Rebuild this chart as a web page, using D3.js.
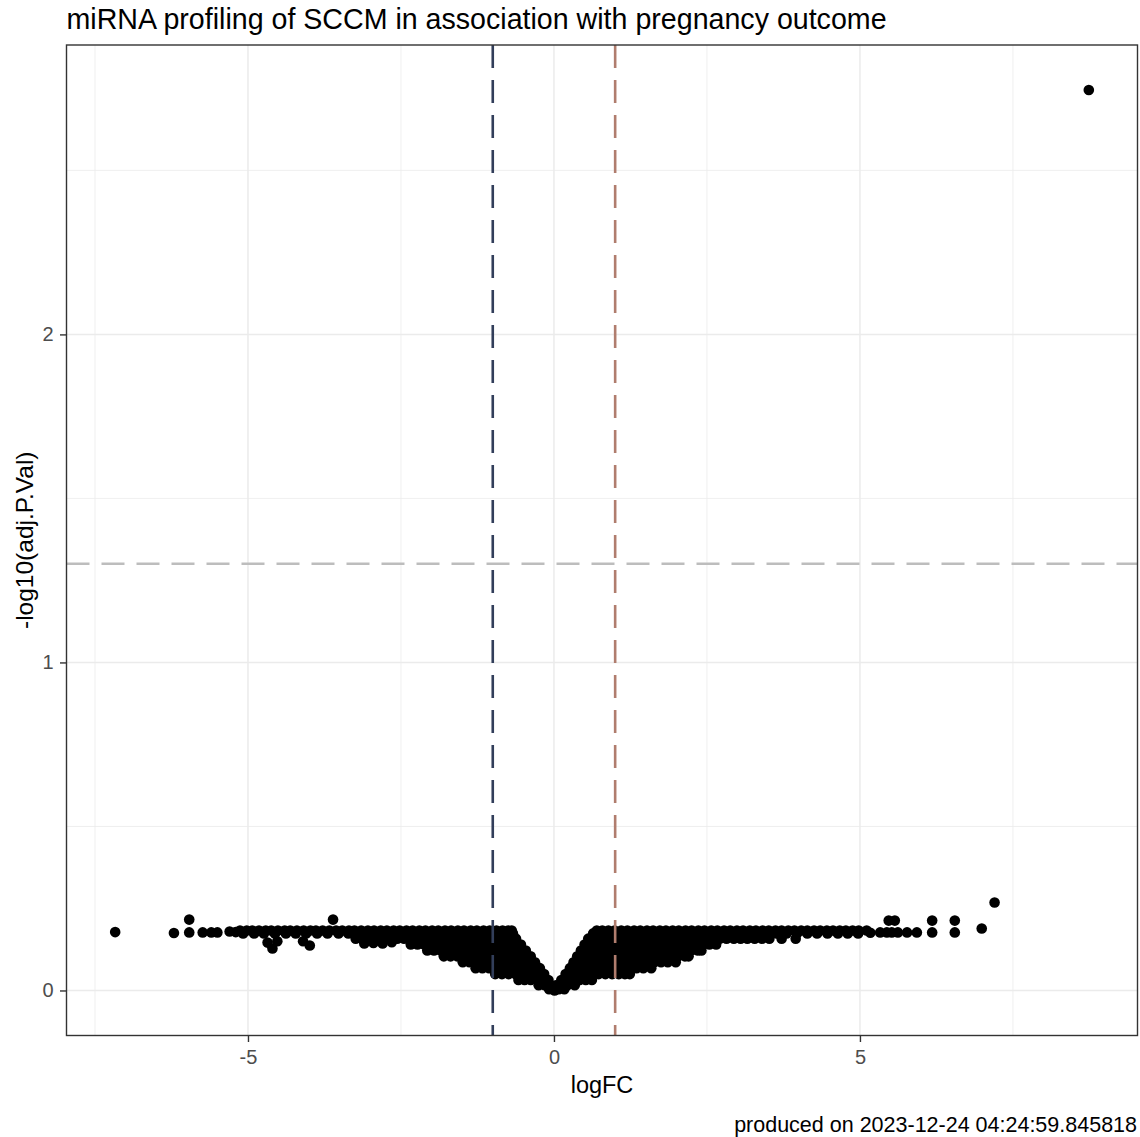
<!DOCTYPE html>
<html><head><meta charset="utf-8">
<script src="https://cdn.jsdelivr.net/npm/d3@7"></script>
<style>
html,body{margin:0;padding:0;background:#fff;}
svg{display:block;font-family:"Liberation Sans",Arial,sans-serif;}
</style></head>
<body><svg id="chart" width="1140" height="1137"></svg>
<script>
// ---- data ----
const titleText = "miRNA profiling of SCCM in association with pregnancy outcome";
const xLabel = "logFC";
const yLabel = "-log10(adj.P.Val)";
const captionText = "produced on 2023-12-24 04:24:59.845818";
const xTicks = [-5, 0, 5];
const xMinorTicks = [-7.5, -2.5, 2.5, 7.5];
const yTicks = [0, 1, 2];
const yMinorTicks = [0.5, 1.5, 2.5];
const fcCutoffs = [-1, 1];
const pCutoff = 1.301; // -log10(0.05)

// dense cloud, one y level per row
const rowY = [0.183, 0.174, 0.158, 0.140, 0.122, 0.104, 0.086, 0.068, 0.050, 0.032, 0.016, 0.004];
const rowX = [
  [-5.13,-5.02,-4.93,-4.82,-4.71,-4.62,-4.51,-4.40,-4.31,-4.20,-4.09,-3.98,-3.89,-3.78,-3.67,-3.56,-3.46,-3.35,-3.26,-3.15,-3.04,-2.94,-2.83,-2.73,-2.62,-2.52,-2.41,-2.31,-2.20,-2.10,-1.99,-1.89,-1.78,-1.68,-1.57,-1.47,-1.36,-1.26,-1.15,-1.05,-0.94,-0.84,-0.75,-0.69,
   0.70,0.79,0.89,0.99,1.10,1.20,1.31,1.41,1.52,1.62,1.73,1.83,1.94,2.04,2.15,2.25,2.36,2.46,2.57,2.67,2.78,2.88,2.99,3.09,3.20,3.30,3.41,3.51,3.62,3.72,3.83,3.93,4.04,4.14,4.25,4.35,4.46,4.56,4.67,4.77,4.88,4.98,5.11],
  [-5.08,-4.9,-4.74,-4.56,-4.38,-4.22,-4.05,-3.87,-3.7,-3.52,-3.36,-3.18,-3.01,-2.86,-2.68,-2.5,-2.34,-2.17,-2.0,-1.83,-1.66,-1.5,-1.33,-1.16,-1.0,-0.83,-0.67,
   0.64,0.8,0.97,1.14,1.3,1.47,1.64,1.8,1.97,2.14,2.3,2.47,2.64,2.8,2.97,3.14,3.3,3.47,3.64,3.8,3.97,4.14,4.3,4.47,4.64,4.8,4.97],
  [-3.24,-3.13,-3.02,-2.9,-2.79,-2.68,-2.56,-2.45,-2.34,-2.22,-2.11,-2.0,-1.88,-1.77,-1.66,-1.54,-1.43,-1.32,-1.2,-1.09,-0.98,-0.86,-0.75,-0.62,
   0.56,0.67,0.78,0.9,1.01,1.12,1.24,1.35,1.46,1.58,1.69,1.8,1.92,2.03,2.14,2.26,2.37,2.48,2.6,2.71,2.82,2.94,3.05,3.16,3.28,3.4,3.52,3.72,3.95],
  [-2.34,-2.23,-2.12,-2.0,-1.89,-1.78,-1.66,-1.55,-1.44,-1.32,-1.21,-1.1,-0.98,-0.87,-0.76,-0.64,-0.54,
   0.5,0.61,0.72,0.84,0.95,1.06,1.18,1.29,1.4,1.52,1.63,1.74,1.86,1.97,2.08,2.2,2.31,2.42,2.54,2.65],
  [-2.07,-1.96,-1.85,-1.74,-1.62,-1.51,-1.4,-1.29,-1.18,-1.06,-0.95,-0.84,-0.73,-0.61,-0.5,-0.46,
   0.44,0.55,0.66,0.77,0.89,1.0,1.11,1.22,1.34,1.45,1.56,1.67,1.79,1.9,2.01,2.12,2.24,2.35,2.41],
  [-1.8,-1.69,-1.58,-1.47,-1.36,-1.25,-1.14,-1.03,-0.92,-0.81,-0.7,-0.59,-0.48,-0.38,
   0.38,0.49,0.6,0.71,0.82,0.93,1.04,1.15,1.26,1.37,1.48,1.59,1.7,1.81,1.92,2.03,2.14,2.2],
  [-1.49,-1.38,-1.27,-1.16,-1.05,-0.94,-0.83,-0.72,-0.61,-0.5,-0.4,-0.31,
   0.32,0.43,0.54,0.65,0.76,0.87,0.98,1.09,1.2,1.31,1.42,1.53,1.64,1.75,1.86,1.99],
  [-1.28,-1.17,-1.06,-0.95,-0.84,-0.73,-0.62,-0.51,-0.4,-0.3,-0.23,
   0.26,0.36,0.47,0.58,0.69,0.8,0.91,1.02,1.13,1.24,1.35,1.46,1.59],
  [-0.96,-0.85,-0.74,-0.63,-0.52,-0.41,-0.3,-0.2,-0.16,
   0.19,0.29,0.4,0.51,0.62,0.73,0.84,0.95,1.06,1.16,1.24],
  [-0.58,-0.48,-0.38,-0.28,-0.18,-0.09,
   0.12,0.22,0.32,0.42,0.52,0.62],
  [-0.25,-0.15,-0.06,0.03,0.12,0.22,0.34],
  [-0.08,0.0,0.08,0.17]
];
// isolated points [logFC, -log10(adj.P.Val)]
const singlePoints = [
  [-7.17,0.178],[-6.21,0.175],[-5.96,0.216],[-5.96,0.177],[-5.74,0.177],[-5.6,0.177],[-5.5,0.177],
  [-5.3,0.180],[-5.2,0.178],[-4.6,0.128],[-4.68,0.146],[-4.52,0.150],[-3.99,0.137],[-4.1,0.150],
  [-3.61,0.216],[-3.1,0.143],[-2.95,0.145],[-2.8,0.143],[-2.65,0.147],
  [5.17,0.176],[5.33,0.177],[5.44,0.177],[5.52,0.177],[5.62,0.177],[5.77,0.177],[5.93,0.177],
  [5.47,0.213],[5.57,0.213],[6.18,0.213],[6.18,0.177],[6.55,0.213],[6.55,0.177],
  [6.99,0.189],[7.2,0.268],[8.74,2.745],[0.01,0.0]
];

// ---- build point table ----
const points = [];
rowY.forEach((yv, i) => rowX[i].forEach(xv => points.push({x: xv, y: yv})));
singlePoints.forEach(p => points.push({x: p[0], y: p[1]}));

// ---- layout ----
const W = 1140, H = 1137;
const panel = {left: 66.5, right: 1137.5, top: 45, bottom: 1035.5};
const svg = d3.select("#chart");

function expand(ext, f) { const r = ext[1] - ext[0]; return [ext[0] - f * r, ext[1] + f * r]; }
const x = d3.scaleLinear().domain(expand(d3.extent(points, d => d.x), 0.05)).range([panel.left, panel.right]);
const y = d3.scaleLinear().domain(expand(d3.extent(points, d => d.y), 0.05)).range([panel.bottom, panel.top]);

// background + grid
const g = svg.append("g");
g.append("rect").attr("x", panel.left).attr("y", panel.top)
  .attr("width", panel.right - panel.left).attr("height", panel.bottom - panel.top).attr("fill", "#fff");

const grid = g.append("g").attr("stroke", "#ebebeb").attr("fill", "none");
grid.selectAll(".xm").data(xMinorTicks).join("line")
  .attr("x1", d => x(d)).attr("x2", d => x(d)).attr("y1", panel.top).attr("y2", panel.bottom).attr("stroke-width", 0.8);
grid.selectAll(".ym").data(yMinorTicks).join("line")
  .attr("y1", d => y(d)).attr("y2", d => y(d)).attr("x1", panel.left).attr("x2", panel.right).attr("stroke-width", 0.8);
grid.selectAll(".xM").data(xTicks).join("line")
  .attr("x1", d => x(d)).attr("x2", d => x(d)).attr("y1", panel.top).attr("y2", panel.bottom).attr("stroke-width", 1.5);
grid.selectAll(".yM").data(yTicks).join("line")
  .attr("y1", d => y(d)).attr("y2", d => y(d)).attr("x1", panel.left).attr("x2", panel.right).attr("stroke-width", 1.5);

// points
g.append("g").selectAll("circle").data(points).join("circle")
  .attr("cx", d => x(d.x)).attr("cy", d => y(d.y)).attr("r", 5.3).attr("fill", "#000");

// reference lines
g.append("line").attr("x1", panel.left).attr("x2", panel.right)
  .attr("y1", y(pCutoff)).attr("y2", y(pCutoff))
  .attr("stroke", "#bdbdbd").attr("stroke-width", 2.6).attr("stroke-dasharray", "23,12");
const vColors = ["#323e5a", "#b07d6e"];
g.selectAll(".vl").data(fcCutoffs).join("line")
  .attr("x1", d => x(d)).attr("x2", d => x(d)).attr("y1", panel.top).attr("y2", panel.bottom)
  .attr("stroke", (d, i) => vColors[i]).attr("stroke-width", 2.6).attr("stroke-dasharray", "23,12");

// panel border
g.append("rect").attr("x", panel.left).attr("y", panel.top)
  .attr("width", panel.right - panel.left).attr("height", panel.bottom - panel.top)
  .attr("fill", "none").attr("stroke", "#333333").attr("stroke-width", 1.4);

// axes
const xAxis = d3.axisBottom(x).tickValues(xTicks).tickSize(6.5).tickPadding(8).tickFormat(d3.format("d"));
const yAxis = d3.axisLeft(y).tickValues(yTicks).tickSize(6.5).tickPadding(6.5).tickFormat(d3.format("d"));
const gx = svg.append("g").attr("transform", `translate(0,${panel.bottom})`).call(xAxis);
const gy = svg.append("g").attr("transform", `translate(${panel.left},0)`).call(yAxis);
[gx, gy].forEach(a => {
  a.select(".domain").remove();
  a.selectAll(".tick line").attr("stroke", "#333333").attr("stroke-width", 1.4);
  a.selectAll(".tick text").attr("fill", "#4d4d4d").style("font-size", "20px")
    .style("font-family", '"Liberation Sans",Arial,sans-serif');
});
gx.selectAll(".tick text").text(d => d < 0 ? "-" + Math.abs(d) : d);

// titles
svg.append("text").attr("x", panel.left).attr("y", 29).text(titleText)
  .style("font-size", "28.6px").attr("fill", "#000");
svg.append("text").attr("x", (panel.left + panel.right) / 2).attr("y", 1093).attr("text-anchor", "middle")
  .text(xLabel).style("font-size", "23.5px").attr("fill", "#000");
svg.append("text").attr("transform", `translate(33,${(panel.top + panel.bottom) / 2}) rotate(-90)`)
  .attr("text-anchor", "middle").text(yLabel).style("font-size", "24.5px").attr("fill", "#000");
svg.append("text").attr("x", W - 3).attr("y", 1132).attr("text-anchor", "end")
  .text(captionText).style("font-size", "21.5px").attr("fill", "#000");
</script>
</body></html>
